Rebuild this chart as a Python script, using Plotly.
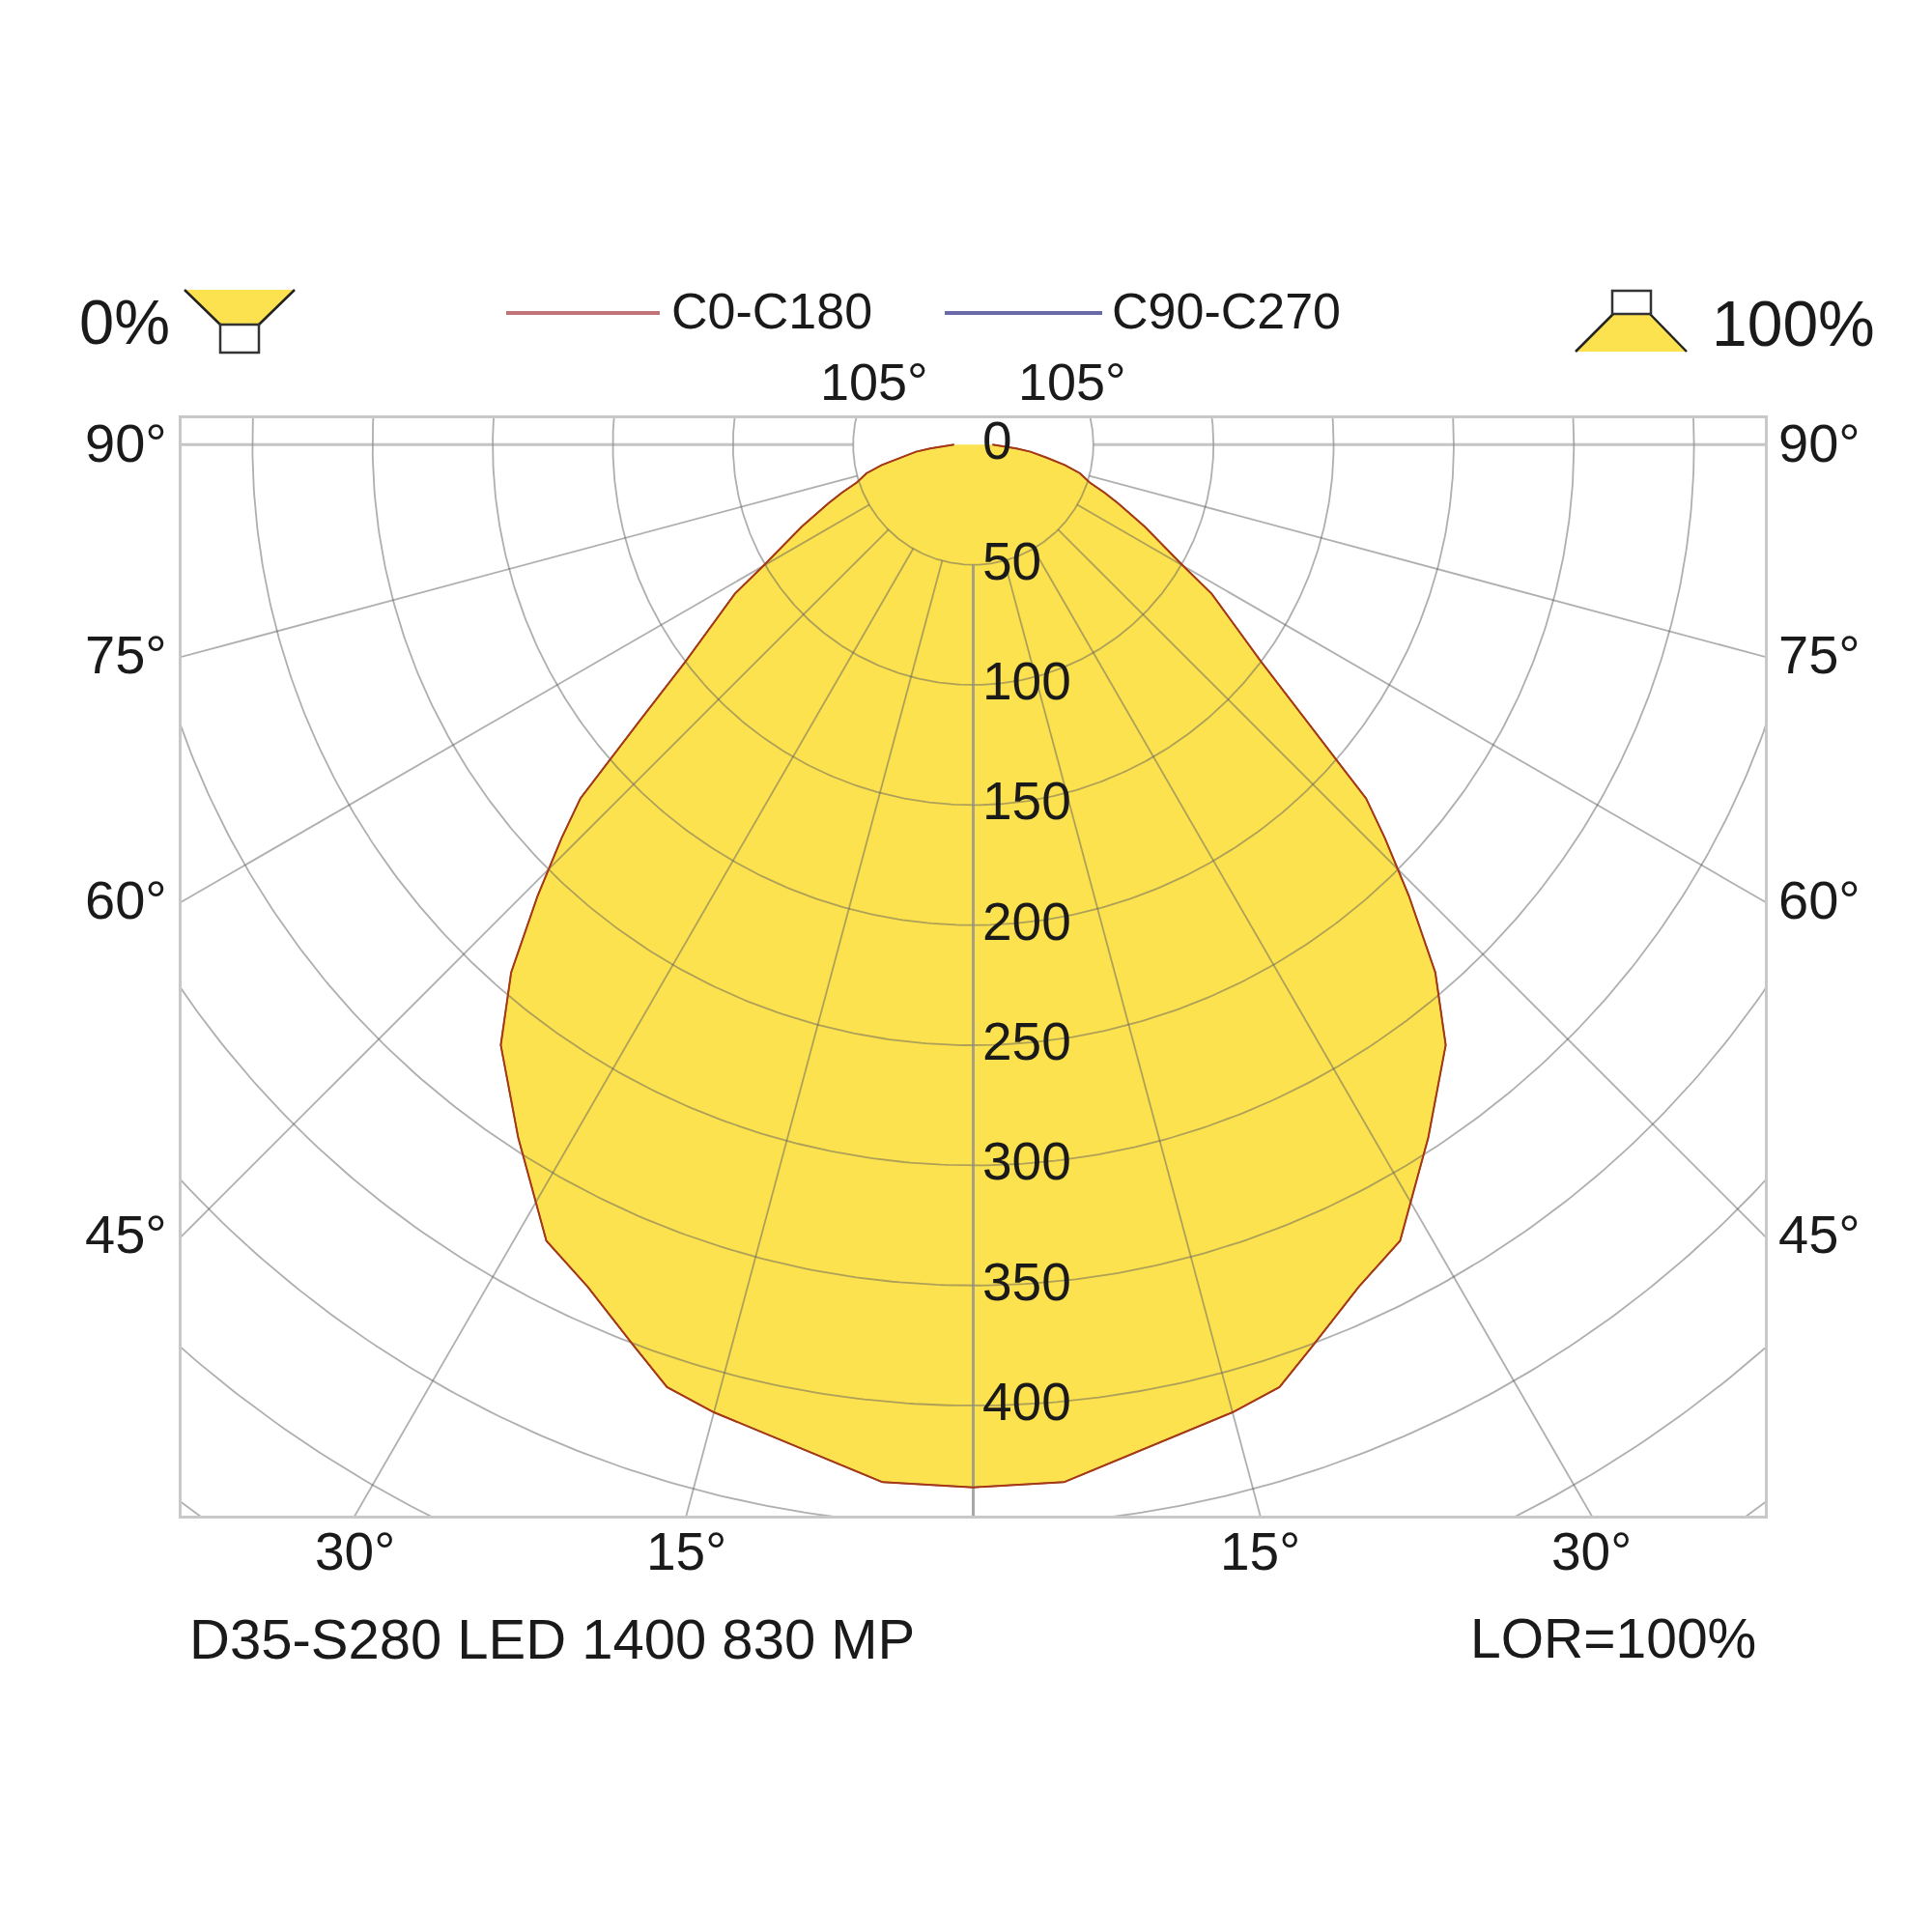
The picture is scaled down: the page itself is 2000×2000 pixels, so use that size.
import numpy as np
import plotly.graph_objects as go

# light distribution (cd/klm), symmetric about nadir
angles = [0, 5, 15, 18, 20.6, 24.6, 28.2, 33.3, 38.2, 41.2, 44, 46.3, 48, 49, 50.4,
          53, 58, 60, 64.5, 68, 70, 72, 75, 77.5, 80, 83, 85, 88, 90]
c0_c180 = [434, 433.5, 417, 412.5, 401, 385.5, 376, 345, 318, 292, 261, 237, 220, 201, 180,
           150, 117, 101, 79, 65, 58, 51, 46, 39, 31, 24, 18, 11, 8]
c90_c270 = [434, 433.5, 417, 412.5, 401, 385.5, 376, 345, 318, 292, 261, 237, 220, 201, 180,
            150, 117, 101, 79, 65, 58, 51, 46, 39, 31, 24, 18, 11, 8]

grid_radii = [50, 100, 150, 200, 250, 300, 350, 400, 450, 500, 550]
ray_angles = [15, 30, 45, 60, 75, 105]
main_rays = [0, 90]
radial_ticks = [0, 50, 100, 150, 200, 250, 300, 350, 400]
side_ticks = [45, 60, 75, 90]
bottom_ticks = [15, 30]
top_ticks = [105]

luminaire = "D35-S280 LED 1400 830 MP"
lor_text = "LOR=100%"

X_MAX = 329.5
Y_MIN, Y_MAX = -445.8, 11.0

FONT = "Liberation Sans, Arial, sans-serif"
TXT = "#1a1a1a"
YELLOW = "#FDE24F"

# page geometry (pixels) -> paper coords
W = H = 2000
ML, MR, MT, MB = 180, 181, 425, 439
PW, PH = W - ML - MR, H - MT - MB


def px(x):
    return (x - ML) / PW


def py(y):
    return (H - MB - y) / PH


def curve_xy(vals):
    th = np.radians(angles)
    r = np.array(vals, dtype=float)
    xl, yl = -r * np.sin(th), -r * np.cos(th)
    xr, yr = r * np.sin(th), -r * np.cos(th)
    x = np.concatenate([xl[::-1], xr[1:]])
    y = np.concatenate([yl[::-1], yr[1:]])
    return x, y


def rays(list_of_angles, r0=50, r1=800):
    rx, ry = [], []
    for a in list_of_angles:
        ar = np.radians(a)
        for s in (-1, 1):
            rx += [s * r0 * np.sin(ar), s * r1 * np.sin(ar), None]
            ry += [-r0 * np.cos(ar), -r1 * np.cos(ar), None]
    return rx, ry


fig = go.Figure()

# filled distribution
fx, fy = curve_xy(c0_c180)
fig.add_trace(go.Scatter(x=fx, y=fy, mode="lines", fill="toself", fillcolor=YELLOW,
                         line=dict(width=0), hoverinfo="skip", showlegend=False))

# polar grid: circles
t = np.linspace(0, 2 * np.pi, 721)
gx, gy = [], []
for rg in grid_radii:
    gx += list(rg * np.cos(t)) + [None]
    gy += list(rg * np.sin(t)) + [None]
GRID = "rgba(95,95,95,0.5)"
fig.add_trace(go.Scatter(x=gx, y=gy, mode="lines", line=dict(color=GRID, width=1.8),
                         hoverinfo="skip", showlegend=False))

# polar grid: rays starting at the first circle
rx, ry = rays(ray_angles)
fig.add_trace(go.Scatter(x=rx, y=ry, mode="lines", line=dict(color=GRID, width=1.8),
                         hoverinfo="skip", showlegend=False))
mx, my = rays(main_rays)
fig.add_trace(go.Scatter(x=mx, y=my, mode="lines", line=dict(color="rgba(140,140,140,0.5)", width=3),
                         hoverinfo="skip", showlegend=False))

# outlines
bx, by = curve_xy(c90_c270)
fig.add_trace(go.Scatter(x=bx, y=by, mode="lines", line=dict(color="#5a5aa8", width=1.5),
                         hoverinfo="skip", showlegend=False))
fig.add_trace(go.Scatter(x=fx, y=fy, mode="lines", line=dict(color="#a8380f", width=2),
                         hoverinfo="skip", showlegend=False))

ann = []
# radial value labels along the 0 deg line
for v in radial_ticks:
    ann.append(dict(x=3, y=-v, xref="x", yref="y", text=str(v), showarrow=False,
                    xanchor="left", yanchor="middle", yshift=4, font=dict(size=55)))
# side angle labels
for a in side_ticks:
    yv = -X_MAX / np.tan(np.radians(a)) if a < 90 else 0
    ann.append(dict(x=px(167), y=yv, xref="paper", yref="y", text=f"{a}°", showarrow=False,
                    xanchor="right", yanchor="middle", yshift=2, font=dict(size=56)))
    ann.append(dict(x=px(1831), y=yv, xref="paper", yref="y", text=f"{a}°", showarrow=False,
                    xanchor="left", yanchor="middle", yshift=2, font=dict(size=56)))
# bottom angle labels
for a in bottom_ticks:
    xv = -Y_MIN * np.tan(np.radians(a))
    for s in (-1, 1):
        ann.append(dict(x=s * xv, y=Y_MIN, xref="x", yref="y", text=f"{a}°", showarrow=False,
                        xanchor="center", yanchor="top", yshift=-4, font=dict(size=55)))
# top angle labels
for a in top_ticks:
    xv = Y_MAX / np.tan(np.radians(a - 90))
    for s in (-1, 1):
        ann.append(dict(x=s * xv, y=Y_MAX, xref="x", yref="y", text=f"{a}°", showarrow=False,
                        xanchor="center", yanchor="bottom", yshift=6, font=dict(size=54)))

# header and footer
ann += [
    dict(x=px(170), y=py(326), text="0%", xanchor="right", font=dict(size=65)),
    dict(x=px(1762), y=py(327), text="100%", xanchor="left", font=dict(size=66)),
    dict(x=px(685), y=py(314), text="C0-C180", xanchor="left", font=dict(size=52)),
    dict(x=px(1141), y=py(314), text="C90-C270", xanchor="left", font=dict(size=52)),
    dict(x=px(186), y=py(1688), text=luminaire, xanchor="left", font=dict(size=58)),
    dict(x=px(1812), y=py(1688), text=lor_text, xanchor="right", font=dict(size=57)),
]
for a in ann[-6:]:
    a.update(xref="paper", yref="paper", showarrow=False, yanchor="middle")
for a in ann:
    a["font"].update(family=FONT, color=TXT)

shapes = [
    # legend lines
    dict(type="line", xref="paper", yref="paper", x0=px(516), x1=px(675), y0=py(316), y1=py(316),
         line=dict(color="#c07478", width=4)),
    dict(type="line", xref="paper", yref="paper", x0=px(970), x1=px(1133), y0=py(316), y1=py(316),
         line=dict(color="#6a6aa8", width=4)),
]


def poly(pts, **kw):
    d = "M " + " L ".join(f"{px(x)},{py(y)}" for x, y in pts)
    if kw.pop("closed", True):
        d += " Z"
    return dict(type="path", xref="paper", yref="paper", path=d, **kw)


# 0% icon (light downward)
shapes += [
    poly([(183, 292), (297, 292), (260, 328), (220, 328)], fillcolor=YELLOW, line=dict(width=0)),
    poly([(183, 292), (220, 328)], closed=False, line=dict(color="#222", width=2.5)),
    poly([(297, 292), (260, 328)], closed=False, line=dict(color="#222", width=2.5)),
    poly([(220, 328), (260, 328), (260, 357), (220, 357)], fillcolor="white", line=dict(color="#333", width=2.5)),
]
# 100% icon
shapes += [
    poly([(1662, 317), (1700, 317), (1738, 356), (1623, 356)], fillcolor=YELLOW, line=dict(width=0)),
    poly([(1662, 317), (1623, 356)], closed=False, line=dict(color="#222", width=2.5)),
    poly([(1700, 317), (1738, 356)], closed=False, line=dict(color="#222", width=2.5)),
    poly([(1661, 293), (1701, 293), (1701, 317), (1661, 317)], fillcolor="white", line=dict(color="#333", width=2.5)),
]

axis = dict(showgrid=False, zeroline=False, showticklabels=False, ticks="",
            showline=True, mirror=True, linecolor="#c8c8c8", linewidth=3)
fig.update_layout(
    width=W, height=H,
    margin=dict(l=ML, r=MR, t=MT, b=MB),
    paper_bgcolor="white", plot_bgcolor="white",
    xaxis=dict(range=[-X_MAX, X_MAX], **axis),
    yaxis=dict(range=[Y_MIN, Y_MAX], **axis),
    annotations=ann, shapes=shapes,
    showlegend=False,
)

fig.write_html("out.html")
